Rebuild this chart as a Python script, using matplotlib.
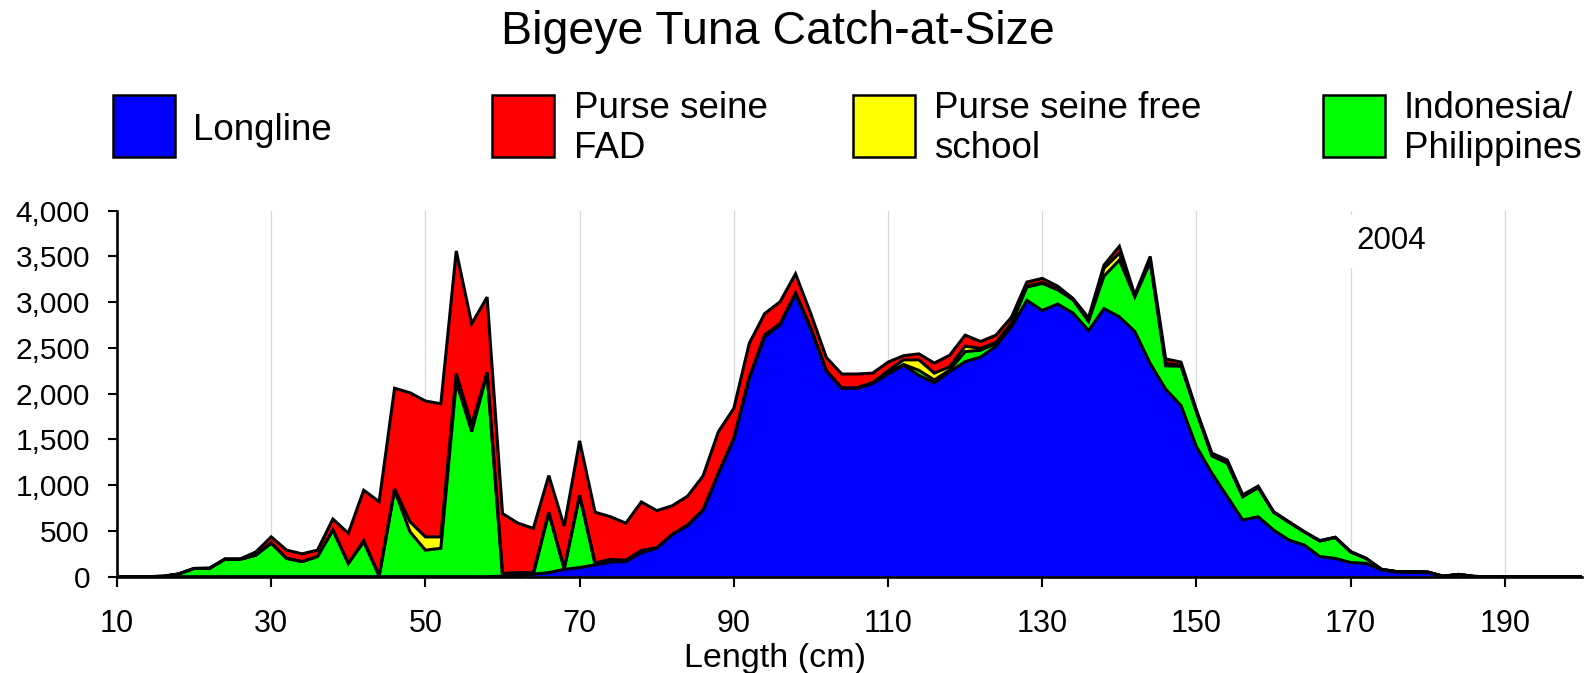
import numpy as np
import matplotlib
matplotlib.use("Agg")
import matplotlib.pyplot as plt
from matplotlib.patches import Rectangle
from matplotlib.ticker import FuncFormatter

plt.rcParams['font.family'] = ['Liberation Sans', 'DejaVu Sans']

# Length classes (cm), 2-cm bins
length_cm = list(range(10, 202, 2))

# Catch (number of fish) by gear, per length class
longline = [
    0, 0, 0, 0, 0, 0, 0, 0, 0, 0,
    0, 0, 0, 0, 0, 0, 0, 0, 0, 0,
    0, 0, 0, 0, 0, 5, 15, 28, 45, 80,
    100, 130, 160, 165, 262, 312, 460, 560, 725, 1130,
    1510, 2170, 2620, 2750, 3090, 2700, 2250, 2060, 2060, 2110,
    2215, 2310, 2200, 2120, 2240, 2350, 2400, 2520, 2730, 3020,
    2910, 2980, 2880, 2690, 2930, 2840, 2680, 2330, 2050, 1870,
    1420, 1130, 875, 620, 655, 510, 400, 345, 220, 200,
    155, 145, 75, 50, 50, 50, 5, 25, 3, 0,
    0, 0, 0, 0, 0, 0,
]
indonesia_philippines = [
    0, 0, 0, 5, 30, 90, 90, 190, 190, 235,
    365, 200, 165, 220, 510, 145, 380, 5, 945, 490,
    290, 310, 2130, 1585, 2220, 0, 0, 0, 655, 5,
    790, 5, 5, 5, 5, 0, 0, 0, 0, 0,
    0, 5, 15, 15, 10, 10, 0, 0, 5, 10,
    15, 10, 55, 30, 20, 110, 75, 30, 35, 145,
    295, 155, 145, 100, 355, 620, 380, 1110, 255, 430,
    380, 190, 365, 255, 320, 195, 195, 145, 170, 230,
    115, 55, 5, 5, 5, 0, 0, 0, 0, 0,
    0, 0, 0, 0, 0, 0,
]
ps_free_school = [
    0, 0, 0, 0, 0, 0, 0, 0, 0, 0,
    5, 0, 0, 0, 0, 0, 15, 5, 15, 110,
    145, 125, 90, 75, 15, 30, 30, 15, 0, 0,
    0, 15, 25, 10, 20, 5, 0, 5, 5, 0,
    0, 0, 10, 0, 0, 0, 0, 0, 0, 0,
    20, 50, 115, 75, 35, 60, 20, 10, 5, 10,
    10, 5, 5, 10, 85, 75, 5, 15, 25, 10,
    0, 5, 5, 0, 0, 0, 0, 0, 0, 0,
    0, 0, 0, 0, 0, 0, 0, 0, 0, 0,
    0, 0, 0, 0, 0, 0,
]
ps_fad = [
    0, 0, 0, 0, 0, 0, 5, 5, 5, 35,
    65, 90, 85, 70, 120, 330, 550, 810, 1100, 1410,
    1485, 1455, 1340, 1105, 820, 655, 540, 485, 405, 465,
    595, 555, 465, 405, 530, 405, 315, 315, 370, 455,
    330, 375, 230, 240, 210, 160, 145, 155, 150, 105,
    95, 45, 65, 110, 125, 120, 75, 80, 65, 45,
    45, 35, 10, 30, 35, 75, 15, 45, 50, 35,
    20, 25, 30, 20, 15, 5, 5, 0, 5, 0,
    5, 0, 0, 0, 0, 0, 0, 0, 0, 0,
    0, 0, 0, 0, 0, 0,
]

series_names = ["Longline", "Purse seine\nFAD", "Purse seine free\nschool",
                "Indonesia/\nPhilippines"]
x_ticks = list(range(10, 200, 20))
y_ticks = list(range(0, 4001, 500))

W, H = 1592, 673
fig = plt.figure(figsize=(W / 100, H / 100), dpi=100)


def fx(px):
    return px / W


def fy(py):
    return 1 - py / H


ax = fig.add_axes([fx(117), fy(576.7), fx(1582) - fx(117), fy(210.7) - fy(576.7)])

x = np.array(length_cm, dtype=float)
stack = [
    (np.array(longline, float), "#0000ff"),
    (np.array(indonesia_philippines, float), "#00ff00"),
    (np.array(ps_free_school, float), "#ffff00"),
    (np.array(ps_fad, float), "#ff0000"),
]

base = np.zeros_like(x)
tops = []
for vals, col in stack:
    top = base + vals
    ax.fill_between(x, base, top, facecolor=col, edgecolor="none", zorder=2)
    tops.append(top)
    base = top
for top in tops:
    ax.plot(x, top, color="black", lw=2.2, zorder=3, solid_joinstyle="miter")

ax.set_xlim(10, 200)
ax.set_ylim(0, 4000)
ax.set_xticks(x_ticks)
ax.set_yticks(y_ticks)
ax.yaxis.set_major_formatter(FuncFormatter(lambda v, p: f"{int(v):,}"))

ax.set_axisbelow(True)
ax.xaxis.grid(True, color="#d9d9d9", lw=0.9)

for s in ("top", "right"):
    ax.spines[s].set_visible(False)
for s in ("left", "bottom"):
    ax.spines[s].set_linewidth(1.9)
    ax.spines[s].set_zorder(4)

ax.tick_params(axis="x", direction="out", length=7, width=1.5, pad=16,
               labelsize=22)
ax.tick_params(axis="y", direction="out", length=6.5, width=1.5, pad=13,
               labelsize=21.5)

ax.text(175.3, 3665, "2004", ha="center", va="center", fontsize=22.5,
        bbox=dict(facecolor="white", edgecolor="none", pad=8), zorder=3)

fig.text(fx(775), fy(667), "Length (cm)", ha="center", va="baseline",
         fontsize=24.5)

fig.text(fx(778), fy(44), "Bigeye Tuna Catch-at-Size", ha="center",
         va="baseline", fontsize=33.5)

# Legend drawn as boxes with labels along the top of the figure
legend_items = [
    ("#0000ff", 113, 193, ["Longline"]),
    ("#ff0000", 492, 574, series_names[1].split("\n")),
    ("#ffff00", 853, 934, series_names[2].split("\n")),
    ("#00ff00", 1323, 1404, series_names[3].split("\n")),
]
for col, bx, tx, lines in legend_items:
    fig.add_artist(Rectangle((fx(bx), fy(157)), fx(62), 62 / H,
                             transform=fig.transFigure, facecolor=col,
                             edgecolor="black", lw=1.8))
    if len(lines) == 1:
        fig.text(fx(tx), fy(140), lines[0], ha="left", va="baseline",
                 fontsize=26.5)
    else:
        fig.text(fx(tx), fy(118), lines[0], ha="left", va="baseline",
                 fontsize=26.5)
        fig.text(fx(tx), fy(158), lines[1], ha="left", va="baseline",
                 fontsize=26.5)

fig.savefig("out.png", dpi=100)
